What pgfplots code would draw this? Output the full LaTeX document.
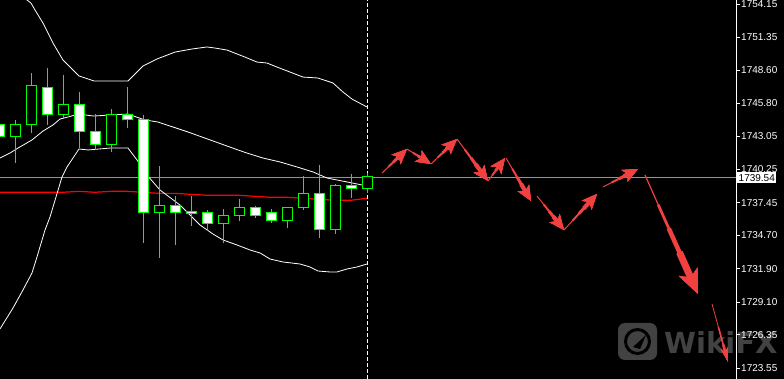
\documentclass[border=0pt]{standalone}
\usepackage{fontspec}
\setmainfont{Liberation Sans}
\newfontfamily\wmfont{DejaVu Sans}
\usepackage{pgfplots}
\usepackage{pgfplotstable}
\pgfplotsset{compat=1.18}
\usepgfplotslibrary{statistics}
\usetikzlibrary{arrows.meta}
\definecolor{cgreen}{RGB}{0,255,0}
\definecolor{arrowred}{RGB}{240,64,64}
\definecolor{pricegray}{RGB}{140,148,160}
\definecolor{wmgray}{RGB}{66,66,66}
% forecast arrows: start (x, price) and displacement (u, v)
\pgfplotstableread{
x y u v
382 1739.94 25 2.02
407 1741.96 24 -1.26
431 1740.70 26 2.10
457 1742.80 31 -3.53
488 1739.27 17 1.93
506 1741.20 25 -3.61
537 1738.01 27 -2.86
564 1735.15 33 3.03
603 1738.77 35 1.51
}\arrowsmall
\pgfplotstableread{
x y u v
645 1739.77 53 -10.00
}\arrowbig
\pgfplotstableread{
x y u v
712 1728.93 16 -4.88
}\arrowthin
% x position, low, body bottom, body top, high, body fill
\newcommand{\candle}[6]{\addplot[draw=cgreen, fill=#6, line width=1bp, boxplot prepared={draw position=#1, lower whisker=#2, lower quartile=#3, median=#3, upper quartile=#4, upper whisker=#5, box extend=10, whisker extend=0}] coordinates {};}
% tapered arrow: table, start fraction, line width, head length, head width
\newcommand{\arrowlayer}[5]{\addplot[arrowred, line width=#3, -{Stealth[length=#4,width=#5,inset=0.25*#4]},
  quiver={u=(1-#2)*\thisrow{u}, v=(1-#2)*\thisrow{v}}]
  table[x expr=\thisrow{x}+#2*\thisrow{u}, y expr=\thisrow{y}+#2*\thisrow{v}] {#1};}
\begin{document}
\begin{tikzpicture}
\fill[black] (0,0) rectangle (784bp,379bp);
% watermark
\fill[wmgray, rounded corners=7bp] (618bp,19bp) rectangle (657bp,56bp);
\draw[black, line width=3bp] (637.5bp,37.5bp) circle (12bp);
\fill[black] (633bp,32bp) -- (646bp,44bp) -- (640bp,30bp) -- cycle;
\node[anchor=base west, inner sep=0pt, text=wmgray, font=\wmfont\bfseries\fontsize{29bp}{32bp}\selectfont] at (664bp,26bp) {WikiFX};
\begin{axis}[at={(0,0)}, anchor=south west, scale only axis,
  width=736bp, height=379bp,
  xmin=0, xmax=736, ymin=1722.62, ymax=1754.49,
  axis x line=none, axis y line=right,
  y axis line style={white, -, line width=0.8bp},
  ytick={1723.55,1726.35,1729.10,1731.90,1734.70,1737.45,1740.25,1743.05,1745.80,1748.60,1751.35,1754.15},
  yticklabels={1723.55,1726.35,1729.10,1731.90,1734.70,1737.45,1740.25,1743.05,1745.80,1748.60,1751.35,1754.15},
  tick align=outside, major tick length=4bp,
  ytick style={white, line width=0.8bp},
  yticklabel style={white, font=\fontsize{10bp}{12bp}\selectfont, anchor=west, inner sep=0pt, xshift=1bp},
  boxplot/draw direction=y,
  clip=true]
% current price line
\addplot[pricegray, line width=0.8bp] coordinates {(0,1739.54) (736,1739.54)};
% moving average
\addplot[red, line width=1.2bp] coordinates {
(-1,1738.32) (15.5,1738.32) (31,1738.32) (47,1738.32) (63,1738.32) (79,1738.40)
(95,1738.32) (111,1738.40) (127,1738.40) (143,1738.32) (159,1738.23) (175,1738.23)
(191,1738.15) (207,1738.07) (223,1738.07) (239,1738.07) (255,1737.98) (271,1737.90)
(287,1737.90) (303,1737.82) (319,1737.73) (335,1737.65) (351,1737.65) (367,1737.82)};
% Bollinger bands
\addplot[white, line width=0.8bp] coordinates {
(-1,1757.85) (15.5,1755.75) (27,1754.49) (31,1754.23) (35,1753.65) (43,1752.55)
(53,1750.87) (63,1749.44) (79,1748.10) (94,1747.68) (128,1747.68) (143,1748.94)
(157,1749.53) (175,1750.11) (192,1750.37) (207,1750.54) (215,1750.45) (227,1750.28)
(245,1749.69) (257,1749.27) (267,1749.19) (277,1748.85) (290,1748.43) (303,1748.01)
(318,1747.93) (333,1747.51) (343,1746.75) (352,1746.16) (367,1745.49)};
\addplot[white, line width=0.8bp] coordinates {
(0,1741.20) (10,1741.62) (18,1742.04) (32,1742.72) (43,1743.47) (53,1743.98)
(60,1744.48) (68,1744.65) (78,1744.90) (94,1744.73) (110,1744.82) (128,1744.90)
(145,1744.40) (158,1744.23) (173,1743.81) (188,1743.39) (238,1741.88) (247,1741.62)
(263,1741.20) (280,1740.87) (297,1740.45) (313,1740.03) (327,1739.52) (347,1739.19)
(367,1738.85)};
\addplot[white, line width=0.8bp] coordinates {
(0,1726.83) (13,1728.59) (23,1730.11) (32,1731.54) (37,1732.88) (45,1735.15)
(50,1736.24) (62,1739.61) (67,1740.45) (79,1741.96) (88,1741.88) (110,1742.04)
(128,1742.04) (137,1741.04) (147,1739.77) (160,1738.51) (180,1737.25) (190,1736.41)
(200,1735.57) (213,1734.81) (223,1734.31) (237,1733.89) (250,1733.47) (260,1733.22)
(270,1732.71) (283,1732.46) (300,1732.29) (310,1732.04) (318,1731.70) (330,1731.62)
(337,1731.62) (347,1731.87) (357,1732.04) (367,1732.29)};
% current-bar separator
\addplot[white, line width=0.8bp, dash pattern=on 4bp off 2bp] coordinates {(367.5,1722.62) (367.5,1754.49)};
% candles
\candle{-1}{1740.87}{1742.97}{1743.98}{1744.82}{white}
\candle{15.5}{1740.78}{1742.97}{1743.98}{1744.40}{black}
\candle{31}{1743.31}{1743.98}{1747.26}{1748.35}{black}
\candle{47}{1743.98}{1744.82}{1747.17}{1748.77}{white}
\candle{63}{1744.57}{1744.82}{1745.74}{1748.18}{black}
\candle{79}{1742.04}{1743.39}{1745.74}{1746.75}{white}
\candle{95}{1741.88}{1742.38}{1743.39}{1744.90}{white}
\candle{111}{1741.71}{1742.38}{1744.82}{1745.32}{black}
\candle{127}{1743.73}{1744.40}{1744.90}{1747.17}{white}
\candle{143}{1734.06}{1736.58}{1744.40}{1744.82}{white}
\candle{159}{1732.80}{1736.58}{1737.25}{1740.53}{black}
\candle{175}{1733.89}{1736.66}{1737.25}{1738.01}{white}
\candle{191}{1735.49}{1736.54}{1736.71}{1738.01}{white}
\candle{207}{1735.07}{1735.66}{1736.58}{1736.83}{white}
\candle{223}{1734.06}{1735.66}{1736.41}{1736.92}{black}
\candle{239}{1735.91}{1736.41}{1737.08}{1737.76}{black}
\candle{255}{1736.16}{1736.33}{1737.08}{1737.17}{white}
\candle{271}{1735.74}{1735.99}{1736.66}{1736.92}{white}
\candle{287}{1735.32}{1735.99}{1737.00}{1737.08}{black}
\candle{303}{1736.83}{1737.00}{1738.26}{1739.69}{black}
\candle{319}{1734.48}{1735.23}{1738.26}{1740.62}{white}
\candle{335}{1734.81}{1735.23}{1738.93}{1739.02}{black}
\candle{351}{1737.84}{1738.60}{1738.93}{1739.86}{white}
\candle{367}{1738.26}{1738.60}{1739.61}{1739.94}{black}
% forecast arrows (tapered by layering)
\arrowlayer{\arrowsmall}{0}{1bp}{15bp}{13bp}
\arrowlayer{\arrowsmall}{0.25}{2bp}{15bp}{13bp}
\arrowlayer{\arrowsmall}{0.45}{3bp}{15bp}{13bp}
\arrowlayer{\arrowsmall}{0.6}{4.2bp}{15bp}{13bp}
\arrowlayer{\arrowbig}{0}{1.2bp}{24bp}{20bp}
\arrowlayer{\arrowbig}{0.25}{2.8bp}{24bp}{20bp}
\arrowlayer{\arrowbig}{0.45}{4.5bp}{24bp}{20bp}
\arrowlayer{\arrowbig}{0.65}{7bp}{24bp}{20bp}
\arrowlayer{\arrowthin}{0}{0.8bp}{14bp}{7bp}
\arrowlayer{\arrowthin}{0.4}{1.6bp}{14bp}{7bp}
\arrowlayer{\arrowthin}{0.7}{2.6bp}{14bp}{7bp}
\coordinate (pl) at (axis cs:736,1739.54);
\end{axis}
\node[anchor=west, fill=white, text=black, inner xsep=1.5bp, inner ysep=0pt, minimum height=11bp, font=\fontsize{10bp}{12bp}\selectfont] at ([xshift=1bp]pl) {1739.54};
\pgfresetboundingbox
\useasboundingbox (0,0) rectangle (784bp,379bp);
\end{tikzpicture}
\end{document}
